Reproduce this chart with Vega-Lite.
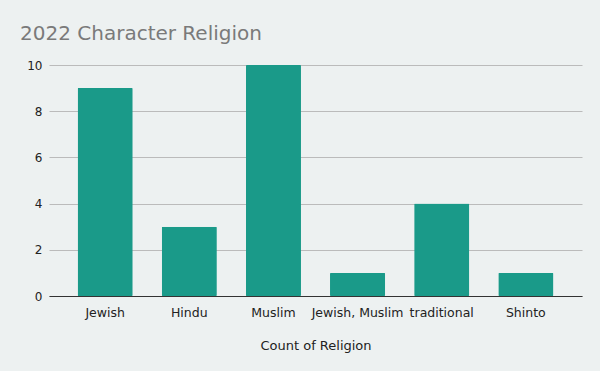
{
  "$schema": "https://vega.github.io/schema/vega-lite/v6.json",
  "width": 533,
  "height": 231,
  "autosize": "none",
  "padding": {"left": 49, "top": 65, "right": 18, "bottom": 75},
  "background": "#edf1f1",
  "title": {
    "text": "2022 Character Religion",
    "anchor": "start",
    "frame": "group",
    "dx": -29,
    "offset": 15,
    "fontSize": 20,
    "font": "DejaVu Sans",
    "fontWeight": "normal",
    "color": "#7a7a7a"
  },
  "config": {
    "view": {"stroke": null},
    "font": "DejaVu Sans"
  },
  "data": {
    "values": [
      {"religion": "Jewish", "count": 9},
      {"religion": "Hindu", "count": 3},
      {"religion": "Muslim", "count": 10},
      {"religion": "Jewish, Muslim", "count": 1},
      {"religion": "traditional", "count": 4},
      {"religion": "Shinto", "count": 1}
    ]
  },
  "mark": {"type": "bar", "color": "#1a9a89", "cornerRadius": 1},
  "encoding": {
    "x": {
      "field": "religion",
      "type": "nominal",
      "sort": null,
      "scale": {"paddingInner": 0.345, "paddingOuter": 0.34},
      "axis": {
        "title": "Count of Religion",
        "labelAngle": 0,
        "labelFontSize": 12.5,
        "labelColor": "#222222",
        "labelPadding": 10,
        "ticks": false,
        "domainColor": "#333333",
        "titleFontSize": 13,
        "titleFontWeight": "normal",
        "titleColor": "#222222",
        "titlePadding": 21
      }
    },
    "y": {
      "field": "count",
      "type": "quantitative",
      "scale": {"domain": [0, 10]},
      "axis": {
        "title": null,
        "values": [0, 2, 4, 6, 8, 10],
        "labelFontSize": 12,
        "labelColor": "#222222",
        "labelPadding": 7,
        "ticks": false,
        "domain": false,
        "gridColor": "#bbbbbb",
        "gridWidth": 1
      }
    }
  }
}
